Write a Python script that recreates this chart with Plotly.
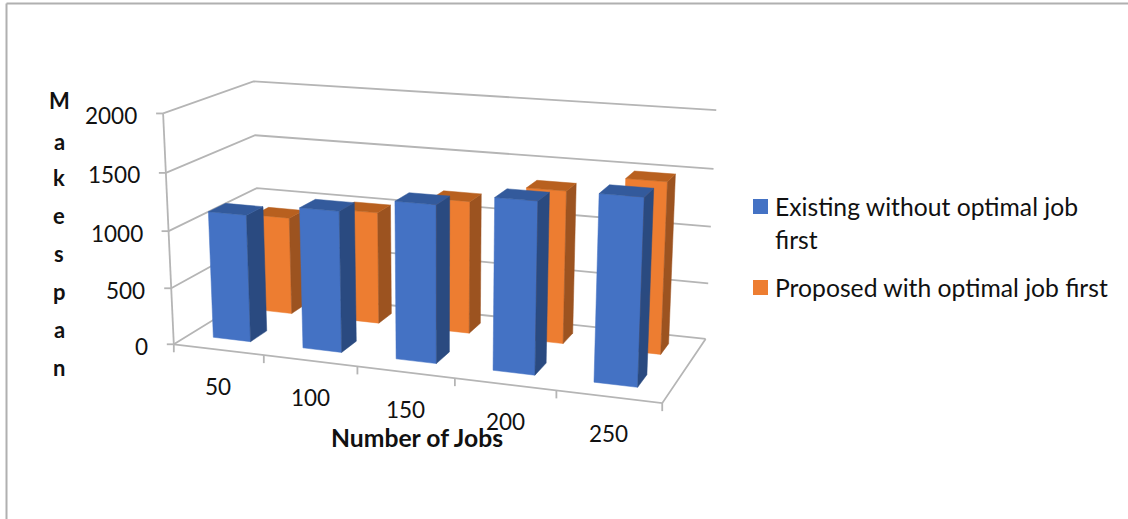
import numpy as np
import plotly.graph_objects as go

# Chart data
categories = ["50", "100", "150", "200", "250"]
existing = [1120, 1225, 1350, 1450, 1550]
proposed = [890, 1010, 1180, 1340, 1485]
value_ticks = [0, 500, 1000, 1500, 2000]
legend_lines = ["Existing without optimal job", "first", "Proposed with optimal job first"]
y_title = "Makespan"
x_title = "Number of Jobs"

W, H = 1128, 519
n = len(categories)
VMAX = value_ticks[-1]

# Perspective camera calibrated on the plot box: (category, depth, value) -> page pixels
box_refs = [((0, 0, 0), (174, 344)), ((1, 0, 0), (264, 355)), ((2, 0, 0), (357, 367)), ((3, 0, 0), (455, 379)),
            ((4, 0, 0), (556, 391)), ((5, 0, 0), (662, 403)), ((5, 1, 0), (705, 338)), ((0, 1, 0), (260, 292)),
            ((0, 0, 2000), (163, 113)), ((0, 0, 1500), (166, 173)), ((0, 0, 1000), (169, 230)), ((0, 1, 2000), (253, 82)),
            ((0, 1, 1500), (255, 135)), ((0, 1, 1000), (257, 188)), ((5, 1, 2000), (716, 111)), ((5, 1, 1500), (714, 169)),
            ((5, 1, 1000), (711, 226)), ((5, 1, 500), (709, 283))]

def camera_matrix(refs):
    rows = []
    for (x, y, z), (u, v) in refs:
        z = z / 1000
        rows.append([x, y, z, 1, 0, 0, 0, 0, -u * x, -u * y, -u * z, -u])
        rows.append([0, 0, 0, 0, x, y, z, 1, -v * x, -v * y, -v * z, -v])
    rows = np.array(rows, float)
    scale = np.array([1, 1, 1, 1, 1, 1, 1, 1, 500, 500, 500, 500.0])
    _, _, vt = np.linalg.svd(rows * scale)
    return (vt[-1] * scale).reshape(3, 4)

CAM = camera_matrix(box_refs)

def project(x, y, z):
    h = CAM @ np.array([x, y, z / 1000, 1.0])
    return float(h[0] / h[2]), float(h[1] / h[2])

def path(points):
    pts = [project(*p) for p in points]
    return [p[0] for p in pts], [p[1] for p in pts]

GRID = "#B5B5B5"
SPAN_EXISTING = (0.27, 0.69)
SPAN_PROPOSED = (0.27, 0.68)
DEPTH_EXISTING = (0.17, 0.36)
DEPTH_PROPOSED = (0.68, 0.86)
BLUE = ("#4472C4", "#2A4A80", "#335A9C")
ORANGE = ("#ED7D31", "#9C5320", "#B8601F")

fig = go.Figure()

def add_frame():
    xs, ys = [], []
    def seg(*pts):
        a, b = path(pts)
        xs.extend(a + [None]); ys.extend(b + [None])
    for t in value_ticks:
        seg((0, 0, t), (0, 1, t), (n, 1, t))
        a = project(0, 0, t)
        xs.extend([a[0] - 7, a[0], None]); ys.extend([a[1], a[1], None])
    seg((0, 0, 0), (n, 0, 0), (n, 1, 0))
    seg((0, 0, 0), (0, 0, VMAX))
    for i in range(n + 1):
        a = project(i, 0, 0)
        xs.extend([a[0], a[0], None]); ys.extend([a[1], a[1] + 8, None])
    fig.add_trace(go.Scatter(x=xs, y=ys, mode="lines", line=dict(color=GRID, width=1.8), hoverinfo="skip", showlegend=False))

def add_bar(i, span, depth, value, colors, label):
    x0, x1 = i + span[0], i + span[1]
    d0, d1 = depth
    faces = [
        ([(x0, d0, 0), (x1, d0, 0), (x1, d0, value), (x0, d0, value)], colors[0]),
        ([(x1, d0, 0), (x1, d1, 0), (x1, d1, value), (x1, d0, value)], colors[1]),
        ([(x0, d0, value), (x1, d0, value), (x1, d1, value), (x0, d1, value)], colors[2]),
    ]
    for pts, col in faces:
        px, py = path(pts + pts[:1])
        fig.add_trace(go.Scatter(x=px, y=py, mode="lines", fill="toself", fillcolor=col,
                                 line=dict(color=col, width=0.5), name=label, showlegend=False,
                                 hovertemplate=f"{categories[i]}: {value}<extra>{label}</extra>"))

add_frame()
for i in range(n):
    add_bar(i, SPAN_PROPOSED, DEPTH_PROPOSED, proposed[i], ORANGE, "Proposed with optimal job first")
for i in range(n):
    add_bar(i, SPAN_EXISTING, DEPTH_EXISTING, existing[i], BLUE, "Existing without optimal job first")

TXT = "#111111"
anns = []
for i, c in enumerate(categories):
    x, y = project(i + 0.5, 0, 0)
    anns.append(dict(x=x, y=y + 37, text=c, font=dict(size=22.5)))
for t in value_ticks:
    x, y = project(0, 0, t)
    anns.append(dict(x=x - 24, y=y + 2, text=str(t), xanchor="right", font=dict(size=22.5)))
for ch, y in zip(y_title, [100, 141, 177, 215, 253, 291, 329, 367]):
    anns.append(dict(x=59, y=y, text=f"<b>{ch}</b>", font=dict(size=22)))
anns.append(dict(x=417, y=437, text=f"<b>{x_title}</b>", font=dict(size=24.7)))
for label, y in zip(legend_lines, [206, 239, 287]):
    anns.append(dict(x=773, y=y, text=label, xanchor="left", font=dict(size=24.7)))
for a in anns:
    a.update(xref="x", yref="y", showarrow=False)
    a["font"].update(family="Lato", color=TXT)

def rect(x0, y0, x1, y1, col):
    return dict(type="rect", xref="x", yref="y", x0=x0, y0=y0, x1=x1, y1=y1, fillcolor=col, line_width=0)

shapes = [
    rect(753, 199, 768, 214, BLUE[0]),
    rect(753, 280, 768, 295, ORANGE[0]),
    dict(type="line", xref="x", yref="y", x0=6.5, y0=3.5, x1=W, y1=3.5, line=dict(color="#B0B0B0", width=2)),
    dict(type="line", xref="x", yref="y", x0=6.5, y0=3.5, x1=6.5, y1=H, line=dict(color="#B0B0B0", width=2)),
]

fig.update_layout(
    width=W, height=H, margin=dict(l=0, r=0, t=0, b=0), showlegend=False,
    paper_bgcolor="white", plot_bgcolor="white", shapes=shapes, annotations=anns,
    xaxis=dict(visible=False, range=[0, W], fixedrange=True),
    yaxis=dict(visible=False, range=[H, 0], fixedrange=True),
)
fig.write_html("out.html")
